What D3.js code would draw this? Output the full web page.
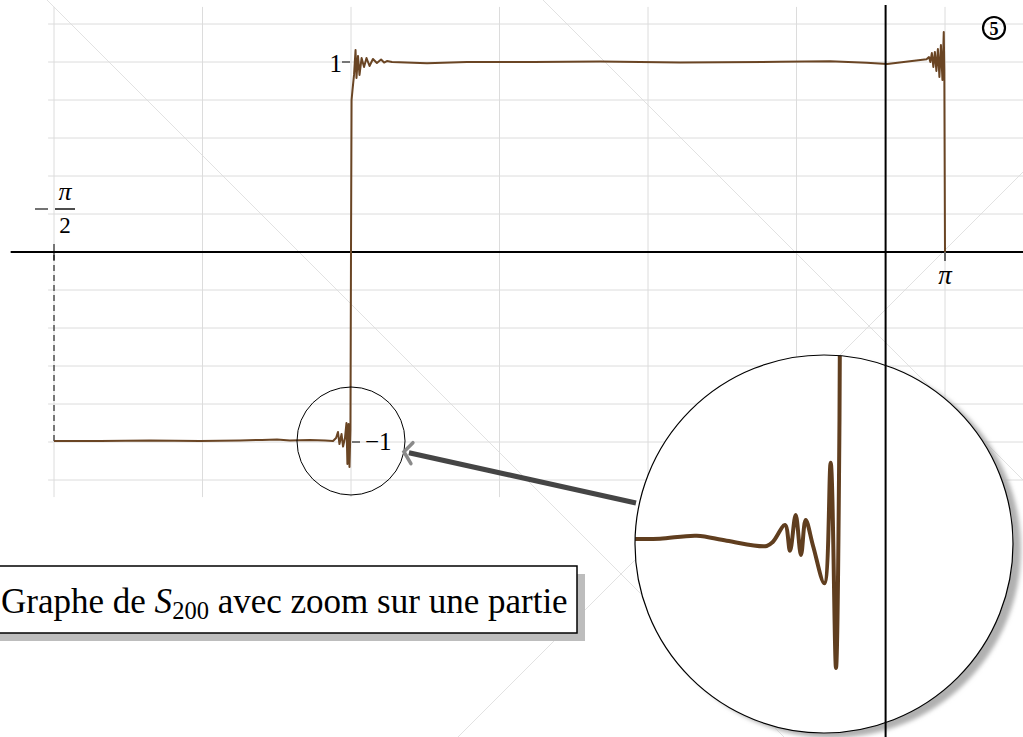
<!DOCTYPE html>
<html><head><meta charset="utf-8">
<script src="https://cdn.jsdelivr.net/npm/d3@7"></script>
<style>html,body{margin:0;padding:0;background:#fff;overflow:hidden}</style>
</head><body><svg id="c" width="1023" height="737"></svg>
<script>
// ---- data ----
const xDomain = [-Math.PI / 2, Math.PI];
const yDomain = [-1, 1];
const gridXTicks = [-Math.PI / 2, -Math.PI / 4, 0, Math.PI / 4, Math.PI / 2, 3 * Math.PI / 4, Math.PI];
const gridYTicks = [-1.2, -1, -0.8, -0.6, -0.4, -0.2, 0, 0.2, 0.4, 0.6, 0.8, 1, 1.2];
const yTickValues = [1, -1];
const yTickLabels = ["1", "\u22121"];
const xTickLabelPi = "\u03c0";
const captionParts = ["Graphe de ", "S", "200", " avec zoom sur une partie"];
const badgeLabel = "5";

// S_200 (x in radians, y)
const curveX = [-1.571, -1.327, -1.063, -0.799, -0.587, -0.471, -0.391, -0.323, -0.217, -0.137, -0.095,
  -0.079, -0.069, -0.061, -0.050, -0.042, -0.032, -0.024, -0.019, -0.013, -0.008, -0.003,
  0.000, 0.003, 0.008, 0.016, 0.024, 0.029, 0.037, 0.045, 0.056, 0.069, 0.082, 0.098, 0.116, 0.137,
  0.159, 0.175, 0.190, 0.217, 0.402, 0.613, 0.962, 1.317, 1.740, 2.269, 2.533, 2.727, 2.836,
  3.044, 3.057, 3.064, 3.072, 3.080, 3.088, 3.096, 3.104, 3.112, 3.120, 3.128, 3.135, 3.138, 3.1416];
const curveY = [-0.995, -0.995, -0.992, -0.995, -0.992, -0.989, -0.987, -0.992, -0.989, -0.992, -0.995,
  -0.979, -0.947, -1.011, -0.958, -1.024, -0.979, -0.900, -1.116, -0.905, -1.132, -0.937,
  0.000, 0.800, 0.853, 0.932, 1.063, 0.916, 1.032, 0.932, 1.021, 0.974, 1.021, 0.979, 1.016, 0.995,
  1.013, 0.997, 1.005, 1.000, 0.994, 1.000, 1.000, 1.003, 0.998, 1.001, 1.004, 0.996, 0.989,
  1.014, 1.026, 1.000, 1.047, 0.974, 1.053, 0.953, 1.068, 0.921, 1.089, 0.905, 1.158, 0.958, 0.000];

// finer rendering shown in the magnifier
const lensCurveX = [-0.300, -0.2856, -0.2478, -0.1923, -0.1470, -0.0866, -0.0771, -0.0589, -0.0514, -0.0428,
  -0.0348, -0.0277, -0.0162, 0.0005, 0.0101, 0.0181, 0.0234, 0.0242];
const lensCurveY = [-0.9873, -0.9872, -0.9868, -0.9823, -0.9898, -0.9977, -0.9913, -0.9662, -1.0048, -0.9511,
  -1.0113, -0.9586, -0.9988, -1.0538, -0.8725, -1.1812, -0.8083, -0.500];

// focus region (small circle) in data units
const focusX = 0, focusY = -0.9947, focusR = 0.2856;
const magnification = 3.5;

// ---- drawing ----
const svg = d3.select("#c");
const W = 1023, H = 737;
const xS = d3.scaleLinear().domain(xDomain).range([54, 945]);
const yS = d3.scaleLinear().domain(yDomain).range([442, 62]);

const gridColor = "#dcdcdc";
const curveColor = "#6a4524";

const defs = svg.append("defs");
const blur = defs.append("filter").attr("id", "blur").attr("x", "-20%").attr("y", "-20%").attr("width", "140%").attr("height", "140%");
blur.append("feGaussianBlur").attr("stdDeviation", 2);

// faint background diagonals
const diag = svg.append("g").attr("stroke", "#e2e2e2").attr("stroke-width", 1);
diag.append("line").attr("x1", 47).attr("y1", 0).attr("x2", 47 + H).attr("y2", H);
diag.append("line").attr("x1", 543).attr("y1", 0).attr("x2", 543 + H).attr("y2", H);
diag.append("line").attr("x1", 1195 - H).attr("y1", H).attr("x2", W).attr("y2", 1195 - W);

// grid
const g = svg.append("g");
g.selectAll("line.vx").data(gridXTicks).join("line")
  .attr("x1", d => xS(d)).attr("x2", d => xS(d))
  .attr("y1", yS(1.29)).attr("y2", yS(-1.29))
  .attr("stroke", gridColor).attr("stroke-width", 1);
g.selectAll("line.hy").data(gridYTicks).join("line")
  .attr("x1", xS(-1.602)).attr("x2", W)
  .attr("y1", d => yS(d)).attr("y2", d => yS(d))
  .attr("stroke", gridColor).attr("stroke-width", 1);

// x axis
svg.append("line").attr("x1", xS(-1.80)).attr("x2", W).attr("y1", yS(0)).attr("y2", yS(0))
  .attr("stroke", "#000").attr("stroke-width", 1.8);

// -pi/2 tick + dashed guide
svg.append("line").attr("x1", xS(xDomain[0])).attr("x2", xS(xDomain[0]))
  .attr("y1", yS(0) - 8).attr("y2", yS(0) + 8).attr("stroke", "#000").attr("stroke-width", 1);
svg.append("line").attr("x1", xS(xDomain[0])).attr("x2", xS(xDomain[0]))
  .attr("y1", yS(0) + 3).attr("y2", yS(-1)).attr("stroke", "#000").attr("stroke-width", 1)
  .attr("stroke-dasharray", "6,4");

// pi tick
svg.append("line").attr("x1", xS(Math.PI)).attr("x2", xS(Math.PI))
  .attr("y1", yS(0)).attr("y2", yS(0) + 9).attr("stroke", "#666").attr("stroke-width", 2);

const serif = "'Liberation Serif','DejaVu Serif',serif";

// -pi/2 label (fraction)
const fx = xS(xDomain[0]) + 11;
svg.append("line").attr("x1", 35).attr("x2", 48).attr("y1", 209).attr("y2", 209)
  .attr("stroke", "#000").attr("stroke-width", 1.1);
svg.append("line").attr("x1", 55).attr("x2", 75).attr("y1", 209).attr("y2", 209)
  .attr("stroke", "#000").attr("stroke-width", 1.4);
svg.append("text").attr("x", fx).attr("y", 200).attr("text-anchor", "middle")
  .attr("font-family", serif).attr("font-style", "italic").attr("font-size", 26).text(xTickLabelPi);
svg.append("text").attr("x", fx).attr("y", 233).attr("text-anchor", "middle")
  .attr("font-family", serif).attr("font-size", 23).text("2");

// pi label
svg.append("text").attr("x", xS(Math.PI)).attr("y", 284).attr("text-anchor", "middle")
  .attr("font-family", serif).attr("font-style", "italic").attr("font-size", 27).text(xTickLabelPi);

// y tick labels
svg.append("line").attr("x1", xS(0) - 9).attr("x2", xS(0) - 1).attr("y1", yS(1)).attr("y2", yS(1))
  .attr("stroke", "#000").attr("stroke-width", 1);
svg.append("text").attr("x", xS(0) - 9).attr("y", yS(1) + 10).attr("text-anchor", "end")
  .attr("font-family", serif).attr("font-size", 25).text(yTickLabels[0]);
svg.append("line").attr("x1", xS(0) + 1).attr("x2", xS(0) + 9).attr("y1", yS(-1)).attr("y2", yS(-1))
  .attr("stroke", "#000").attr("stroke-width", 1);
svg.append("text").attr("x", xS(0) + 14).attr("y", yS(-1) + 8).attr("text-anchor", "start")
  .attr("font-family", serif).attr("font-size", 25).text(yTickLabels[1]);

// main curve
const pts = curveX.map((x, i) => [x, curveY[i]]);
svg.append("path").datum(pts)
  .attr("d", d3.line().x(d => xS(d[0])).y(d => yS(d[1])))
  .attr("fill", "none").attr("stroke", curveColor).attr("stroke-width", 2).attr("stroke-linejoin", "round");

// small focus circle
const fcx = xS(focusX), fcy = yS(focusY);
const fr = xS(focusR) - xS(0);
svg.append("circle").attr("cx", fcx).attr("cy", fcy).attr("r", fr)
  .attr("fill", "none").attr("stroke", "#000").attr("stroke-width", 1);

// lens
const lcx = 824, lcy = 544;
const lensXS = d3.scaleLinear().domain(xDomain).range(xS.range().map(v => lcx + magnification * (v - fcx)));
const lensYS = d3.scaleLinear().domain(yDomain).range(yS.range().map(v => lcy + magnification * (v - fcy)));
const lr = fr * magnification;
svg.append("circle").attr("cx", lcx + 8).attr("cy", lcy + 5).attr("r", lr)
  .attr("fill", "#b0b0b0").attr("filter", "url(#blur)");
svg.append("circle").attr("cx", lcx).attr("cy", lcy).attr("r", lr).attr("fill", "#fff");
defs.append("clipPath").attr("id", "lensClip").append("circle").attr("cx", lcx).attr("cy", lcy).attr("r", lr);
const lpts = lensCurveX.map((x, i) => [x, lensCurveY[i]]);
svg.append("path").datum(lpts).attr("clip-path", "url(#lensClip)")
  .attr("d", d3.line().x(d => lensXS(d[0])).y(d => lensYS(d[1])).curve(d3.curveCatmullRom.alpha(0.5)))
  .attr("fill", "none").attr("stroke", "#603e1f").attr("stroke-width", 4).attr("stroke-linejoin", "round");
svg.append("circle").attr("cx", lcx).attr("cy", lcy).attr("r", lr)
  .attr("fill", "none").attr("stroke", "#000").attr("stroke-width", 1.2);

// vertical line at 0.9*pi
svg.append("line").attr("x1", xS(0.9 * Math.PI)).attr("x2", xS(0.9 * Math.PI)).attr("y1", 5).attr("y2", H)
  .attr("stroke", "#000").attr("stroke-width", 2);

// arrow from lens to focus circle
const tip = [fcx + fr * Math.cos(0.2), fcy + fr * Math.sin(0.2)];
svg.append("line").attr("x1", 636).attr("y1", 503).attr("x2", tip[0] + 5).attr("y2", tip[1] + 1)
  .attr("stroke", "#454545").attr("stroke-width", 5);
svg.append("polyline").attr("points", `${tip[0] + 9},${tip[1] - 9} ${tip[0]},${tip[1]} ${tip[0] + 7},${tip[1] + 12}`)
  .attr("fill", "none").attr("stroke", "#8a8a8a").attr("stroke-width", 3.5).attr("stroke-linecap", "round");

// caption box
svg.append("rect").attr("x", -10 + 8).attr("y", 566 + 8).attr("width", 587).attr("height", 67).attr("fill", "#bdbdbd");
svg.append("rect").attr("x", -10).attr("y", 566).attr("width", 587).attr("height", 67)
  .attr("fill", "#fff").attr("stroke", "#000").attr("stroke-width", 1.5);
const cap = svg.append("text").attr("x", 1).attr("y", 613).attr("font-family", serif).attr("font-size", 30);
cap.append("tspan").text(captionParts[0]);
cap.append("tspan").attr("font-style", "italic").text(captionParts[1]);
cap.append("tspan").attr("font-size", 21).attr("dy", 6).text(captionParts[2]);
cap.append("tspan").attr("dy", -6).text(captionParts[3]);
const w = cap.node().getComputedTextLength();
const fs = 30 * 567 / w;
cap.attr("font-size", fs);
cap.select("tspan:nth-child(3)").attr("font-size", fs * 0.7);

// badge
svg.append("circle").attr("cx", 994).attr("cy", 28).attr("r", 11).attr("fill", "none").attr("stroke", "#000").attr("stroke-width", 2.2);
svg.append("text").attr("x", 994).attr("y", 34.5).attr("text-anchor", "middle").attr("font-family", serif)
  .attr("font-weight", "bold").attr("font-size", 18).text(badgeLabel);
</script></body></html>
